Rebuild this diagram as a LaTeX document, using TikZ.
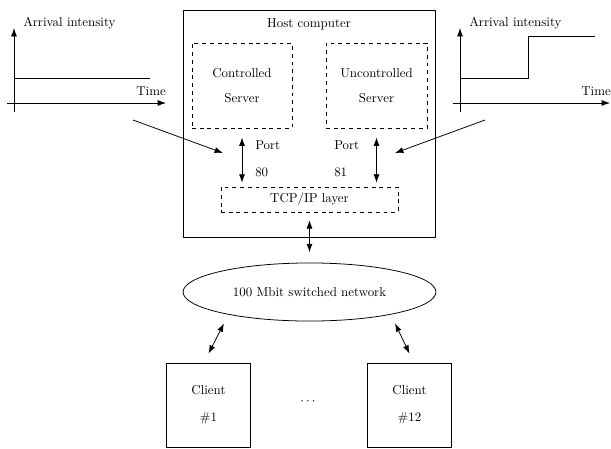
\documentclass[tikz,border=0pt]{standalone}
\usetikzlibrary{shapes.geometric,arrows.meta}
\begin{document}
\begin{tikzpicture}[
          x=0.775pt, y=-0.775pt,
          every node/.style={align=center, inner sep=0pt},
          box/.style={draw, semithick, rectangle},
          dbox/.style={draw, semithick, dashed, rectangle},
          conn/.style={<->, semithick},
          axis/.style={->, semithick},
          >={Latex[length=6.5pt, width=4.6pt]}
        ]
        \useasboundingbox (0,0) rectangle (611,448);

        % host computer
        \node[box, minimum width=195.3pt, minimum height=175.9pt,
              label={[anchor=north, yshift=-6.5pt]north:Host computer}] (host) at (309,123.5) {};
        \node[dbox, minimum width=77.5pt, minimum height=65.9pt] (ctrl) at (242,85.5) {Controlled\\[7pt]Server};
        \node[dbox, minimum width=78.3pt, minimum height=65.9pt] (unctrl) at (376.5,85.5) {Uncontrolled\\[7pt]Server};
        \node[dbox, minimum width=137.2pt, minimum height=19.4pt] (tcp) at (309.5,199.5) {TCP/IP layer};
        \node[anchor=west, align=left] (port80) at (255,158.5) {Port\\[9pt]80};
        \node[anchor=west, align=left] (port81) at (334,158.5) {Port\\[9pt]81};

        % network and clients
        \node[draw, semithick, ellipse, minimum width=196pt, minimum height=45pt] (net) at (309.5,292) {100 Mbit switched network};
        \node[box, minimum width=65.5pt, minimum height=65pt] (client1) at (208.5,405) {Client\\[9pt]\#1};
        \node[box, minimum width=65pt, minimum height=65pt] (client12) at (409.5,405) {Client\\[9pt]\#12};
        \node (dots) at (308,402) {$\cdots$};

        \draw[conn] ([yshift=-7pt]ctrl.south) -- ([yshift=3pt]tcp.north -| ctrl.south);
        \draw[conn] ([yshift=-7pt]unctrl.south) -- ([yshift=3pt]tcp.north -| unctrl.south);
        \draw[conn] ([yshift=-6pt]tcp.south) -- ([yshift=8pt]net.north);
        \draw[conn] ([xshift=12pt, yshift=-1.5pt]net.south -| client1.north) -- ([yshift=7pt]client1.north);
        \draw[conn] ([xshift=-11.2pt, yshift=-1.5pt]net.south -| client12.north) -- ([yshift=7pt]client12.north);

        % arrival intensity, controlled
        \draw[axis] (14,112) -- (14,28);
        \draw[axis] (7,103) -- (166,103);
        \draw[semithick] (14,78) -- (150,78);
        \node[anchor=west] (lylabel) at (23,23) {Arrival intensity};
        \node[anchor=east] (lxlabel) at (166,91) {Time};
        \coordinate (lsrc) at (133,120);
        \coordinate (lin) at (223,153);
        \draw[->, semithick] (lsrc) -- (lin);

        % arrival intensity, uncontrolled
        \draw[axis] (460,112) -- (460,28);
        \draw[axis] (453,103) -- (610,103);
        \draw[semithick] (460,78) -- (528,78) -- (528,36) -- (595,36);
        \node[anchor=west] (rylabel) at (469,23) {Arrival intensity};
        \node[anchor=east] (rxlabel) at (611,91) {Time};
        \coordinate (rsrc) at (485,120);
        \coordinate (rin) at (395,153);
        \draw[->, semithick] (rsrc) -- (rin);
\end{tikzpicture}
\end{document}
